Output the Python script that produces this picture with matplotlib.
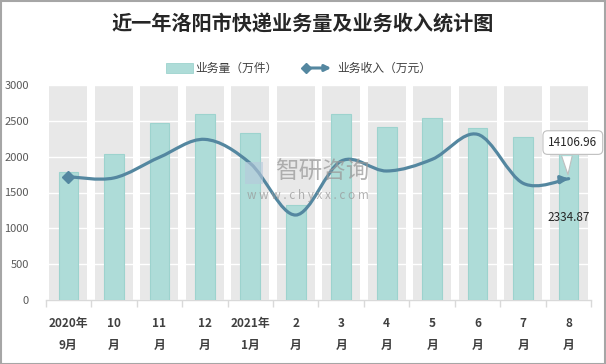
import numpy as np
import matplotlib
matplotlib.use("Agg")
import matplotlib.pyplot as plt
import matplotlib.transforms as mtransforms
from matplotlib.path import Path
from matplotlib.patches import PathPatch, Rectangle, Polygon, FancyArrowPatch
from matplotlib.lines import Line2D

plt.rcParams['font.family'] = ['Noto Sans CJK SC', 'DejaVu Sans']

# data
months = ["2020年\n9月", "10\n月", "11\n月", "12\n月", "2021年\n1月", "2\n月",
          "3\n月", "4\n月", "5\n月", "6\n月", "7\n月", "8\n月"]
volume = [1790, 2033, 2474, 2591, 2326, 1330, 2590, 2409, 2535, 2395, 2270, 2334.87]
income = [14337, 14190, 16590, 18680, 15890, 9880, 16160, 15000, 16360, 19260, 13570, 14106.96]

bar_color = '#aedcd8'
bar_edge = '#9dd3ce'
band_color = '#e8e8e8'
line_color = '#5487a0'

W, H = 606, 364
fig = plt.figure(figsize=(W / 100, H / 100), dpi=100)
ax = fig.add_axes([45.6 / W, 1 - 300 / H, (591.4 - 45.6) / W, (300 - 85) / H])

x = np.arange(len(months))
ymax = 3000

# grey background bands + bars
ax.bar(x, [ymax] * len(x), width=0.84, color=band_color, zorder=0.4)
ax.bar(x, volume, width=0.43, color=bar_color, edgecolor=bar_edge, lw=0.8, zorder=3)

ax.set_ylim(0, ymax)
ax.set_xlim(-0.5, len(x) - 0.5)
ax.set_yticks(np.arange(0, 3001, 500))
ax.set_axisbelow('line')
ax.yaxis.grid(True, color='white', lw=1.0)
ax.set_xticks(x)
ax.set_xticklabels(months, fontsize=8.5, fontweight='bold', color='#404040', linespacing=1.9)
ax.set_xticks(np.arange(-0.5, len(x)), minor=True)
ax.tick_params(axis='x', which='major', length=0, pad=12)
ax.tick_params(axis='x', which='minor', length=5, color='#d9d9d9', width=1)
ax.tick_params(axis='y', length=0, labelsize=8, labelcolor='#595959', pad=12)
for s in ['top', 'right', 'left']:
    ax.spines[s].set_visible(False)
ax.spines['bottom'].set_color('#d9d9d9')
ax.spines['bottom'].set_linewidth(1)

# income line on hidden secondary axis, smoothed like Excel
ax2 = ax.twinx()
ax2.set_ylim(0, 25000)
ax2.axis('off')
pts = np.column_stack([x, income]).astype(float)
ext = np.vstack([pts[0], pts, pts[-1]])
verts = [tuple(pts[0])]
codes = [Path.MOVETO]
for i in range(len(pts) - 1):
    p0, p1, p2, p3 = ext[i], ext[i + 1], ext[i + 2], ext[i + 3]
    c1 = p1 + (p2 - p0) / 6
    c2 = p2 - (p3 - p1) / 6
    verts += [tuple(c1), tuple(c2), tuple(p2)]
    codes += [Path.CURVE4] * 3
ax2.add_patch(PathPatch(Path(verts, codes), fc='none', ec=line_color, lw=2.3, zorder=4,
                        capstyle='round'))
ax2.plot([x[0]], [income[0]], marker='D', ms=6, color=line_color, zorder=5)
tail = pts[-1] - (pts[-1] - pts[-2]) / 6
ax2.annotate('', xy=(x[-1], income[-1]), xytext=tuple(tail),
             arrowprops=dict(arrowstyle='-|>', color=line_color, lw=2.3,
                             mutation_scale=11, shrinkA=0, shrinkB=0), zorder=5)

# data labels: callout box with a tail pointing at the last point
ax2.annotate(f'{income[-1]:.2f}', xy=(x[-1], income[-1]), xytext=(3, 26),
             textcoords='offset points', ha='center', va='center', fontsize=8.5,
             color='#262626', zorder=6,
             bbox=dict(boxstyle='round,pad=0.45,rounding_size=0.4', fc='white', ec='#bfbfbf', lw=0.8))
tip = (x[-1], income[-1])
tail_poly = np.array([[-5.0, 16.2], [-0.5, 3.0], [2.5, 16.2]]) / 72.0   # points -> inches
poly_tr = fig.dpi_scale_trans + mtransforms.ScaledTranslation(*tip, ax2.transData)
ax2.add_patch(Polygon(tail_poly, closed=True, fc='white', ec='none', transform=poly_tr,
                      zorder=7, clip_on=False))
ax2.add_line(Line2D(tail_poly[:, 0], tail_poly[:, 1], color='#bfbfbf', lw=0.8,
                    transform=poly_tr, zorder=7.1, clip_on=False))
ax.annotate(f'{volume[-1]:.2f}', xy=(x[-1], volume[-1]), xytext=(0, -61),
            textcoords='offset points', ha='center', va='center', fontsize=8.5,
            color='#262626', zorder=6)

# title
fig.text(0.5, 1 - 24 / H, '近一年洛阳市快递业务量及业务收入统计图', ha='center', va='center',
         fontsize=14.5, fontweight='bold', color='#262626')

# legend (manual)
ly = 1 - 68 / H
fig.patches.append(Rectangle((166 / W, 1 - 72.7 / H), 26.5 / W, 9.7 / H,
                             transform=fig.transFigure, fc=bar_color, ec=bar_edge, lw=0.6))
fig.text(195 / W, ly, '业务量（万件）', ha='left', va='center', fontsize=8.5, color='#404040')
fig.add_artist(Line2D([306 / W], [ly], marker='D', ms=5, color=line_color,
                      transform=fig.transFigure))
fig.add_artist(FancyArrowPatch((306 / W, ly), (334 / W, ly), transform=fig.transFigure,
                               arrowstyle='-|>', color=line_color, lw=2.2, mutation_scale=9))
fig.text(337 / W, ly, '业务收入（万元）', ha='left', va='center', fontsize=8.5, color='#404040')

# watermark
fig.text(322 / W, 1 - 172 / H, '智研咨询', ha='center', va='center', fontsize=17,
         color='#9a9a9a', alpha=0.75)
fig.text(308 / W, 1 - 195 / H, 'w w w . c h y x x . c o m', ha='center', va='center',
         fontsize=8.5, color='#9a9a9a', alpha=0.75)
fig.patches.append(Rectangle((245 / W, 1 - 184 / H), 18 / W, 22 / H,
                             transform=fig.transFigure, fc='#b7c9dc', ec='none', alpha=0.6))

# outer border
fig.patches.append(Rectangle((0.5 / W, 0.5 / H), 1 - 1.5 / W, 1 - 1.5 / H, transform=fig.transFigure,
                             fill=False, ec='#a6a6a6', lw=1.5))

fig.savefig('out.png', dpi=100)
